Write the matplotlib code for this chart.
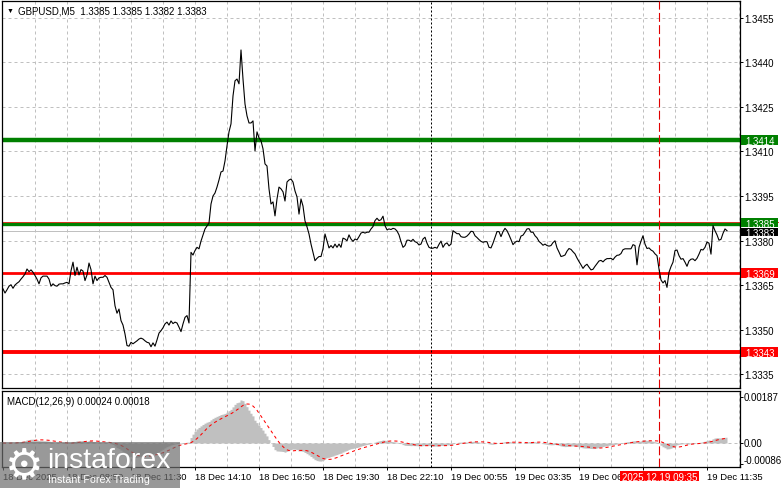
import matplotlib
matplotlib.use("Agg")
import matplotlib.pyplot as plt
import matplotlib.transforms as mtransforms
from matplotlib.patches import Rectangle
import pandas as pd

plt.rcParams['font.family'] = ['Liberation Sans', 'DejaVu Sans']
plt.rcParams['font.size'] = 7

# GBPUSD M5 closes, one per bar, first bar = 18 Dec 06:10
close = [
    1.33637, 1.33623, 1.33634, 1.33646, 1.33651, 1.33639, 1.33650, 1.33656, 1.33661, 1.33670,
    1.33678, 1.33687, 1.33704, 1.33695, 1.33701, 1.33693, 1.33682, 1.33670, 1.33654, 1.33674,
    1.33680, 1.33680, 1.33680, 1.33670, 1.33646, 1.33654, 1.33648, 1.33646, 1.33653, 1.33654,
    1.33654, 1.33657, 1.33659, 1.33654, 1.33698, 1.33727, 1.33682, 1.33710, 1.33684, 1.33702,
    1.33697, 1.33665, 1.33684, 1.33724, 1.33702, 1.33654, 1.33680, 1.33665, 1.33674, 1.33676,
    1.33676, 1.33682, 1.33676, 1.33659, 1.33642, 1.33634, 1.33580, 1.33555, 1.33569, 1.33530,
    1.33515, 1.33485, 1.33446, 1.33444, 1.33457, 1.33452, 1.33457, 1.33462, 1.33468, 1.33471,
    1.33468, 1.33462, 1.33457, 1.33455, 1.33442, 1.33455, 1.33444, 1.33465, 1.33488, 1.33496,
    1.33506, 1.33519, 1.33525, 1.33515, 1.33529, 1.33520, 1.33525, 1.33522, 1.33508, 1.33493,
    1.33519, 1.33541, 1.33547, 1.33522, 1.33760, 1.33751, 1.33766, 1.33777, 1.33772, 1.33798,
    1.33819, 1.33839, 1.33849, 1.33859, 1.33923, 1.33950, 1.33960, 1.33980, 1.34004, 1.34031,
    1.34034, 1.34068, 1.34119, 1.34166, 1.34193, 1.34287, 1.34338, 1.34344, 1.34328, 1.34442,
    1.34344, 1.34260, 1.34220, 1.34196, 1.34196, 1.34203, 1.34102, 1.34166, 1.34146, 1.34136,
    1.34109, 1.34058, 1.34051, 1.33974, 1.33923, 1.33930, 1.33883, 1.33940, 1.33980, 1.33974,
    1.33964, 1.33933, 1.33997, 1.34004, 1.34007, 1.33997, 1.33967, 1.33947, 1.33889, 1.33940,
    1.33916, 1.33866, 1.33846, 1.33822, 1.33788, 1.33760, 1.33732, 1.33740, 1.33746, 1.33746,
    1.33772, 1.33822, 1.33799, 1.33775, 1.33783, 1.33775, 1.33788, 1.33777, 1.33788, 1.33777,
    1.33808, 1.33805, 1.33799, 1.33819, 1.33805, 1.33797, 1.33805, 1.33802, 1.33813, 1.33825,
    1.33828, 1.33825, 1.33828, 1.33828, 1.33839, 1.33847, 1.33867, 1.33875, 1.33867, 1.33870,
    1.33882, 1.33850, 1.33836, 1.33839, 1.33837, 1.33841, 1.33839, 1.33832, 1.33819, 1.33796,
    1.33777, 1.33783, 1.33801, 1.33801, 1.33797, 1.33804, 1.33796, 1.33793, 1.33785, 1.33788,
    1.33805, 1.33811, 1.33791, 1.33777, 1.33774, 1.33774, 1.33777, 1.33774, 1.33787, 1.33798,
    1.33777, 1.33788, 1.33792, 1.33782, 1.33788, 1.33833, 1.33828, 1.33823, 1.33823, 1.33813,
    1.33811, 1.33811, 1.33815, 1.33822, 1.33831, 1.33830, 1.33816, 1.33810, 1.33803, 1.33797,
    1.33794, 1.33796, 1.33796, 1.33777, 1.33775, 1.33791, 1.33811, 1.33830, 1.33830, 1.33813,
    1.33830, 1.33841, 1.33833, 1.33819, 1.33803, 1.33786, 1.33794, 1.33798, 1.33796, 1.33815,
    1.33818, 1.33828, 1.33839, 1.33840, 1.33828, 1.33828, 1.33816, 1.33809, 1.33797, 1.33791,
    1.33784, 1.33788, 1.33783, 1.33781, 1.33783, 1.33793, 1.33799, 1.33775, 1.33761, 1.33746,
    1.33748, 1.33751, 1.33764, 1.33773, 1.33770, 1.33762, 1.33755, 1.33741, 1.33729, 1.33718,
    1.33706, 1.33715, 1.33720, 1.33710, 1.33701, 1.33703, 1.33713, 1.33722, 1.33731, 1.33733,
    1.33728, 1.33735, 1.33739, 1.33739, 1.33740, 1.33735, 1.33744, 1.33750, 1.33751, 1.33756,
    1.33769, 1.33772, 1.33772, 1.33772, 1.33772, 1.33786, 1.33783, 1.33718, 1.33777, 1.33798,
    1.33816, 1.33788, 1.33773, 1.33775, 1.33768, 1.33764, 1.33755, 1.33749, 1.33704, 1.33667,
    1.33657, 1.33665, 1.33642, 1.33693, 1.33712, 1.33727, 1.33766, 1.33768, 1.33749, 1.33737,
    1.33739, 1.33727, 1.33713, 1.33731, 1.33737, 1.33738, 1.33732, 1.33740, 1.33754, 1.33770,
    1.33768, 1.33777, 1.33795, 1.33791, 1.33754, 1.33850, 1.33833, 1.33819, 1.33801, 1.33804,
    1.33824, 1.33839, 1.33833,
]

# time axis labels (19 Dec 08:55 is hidden under the cursor box in the terminal)
time_labels = ['18 Dec 2025', '18 Dec 08:50', '18 Dec 11:30', '18 Dec 14:10',
               '18 Dec 16:50', '18 Dec 19:30', '18 Dec 22:10', '19 Dec 00:55',
               '19 Dec 03:35', '19 Dec 06:15', '', '19 Dec 11:35']
label_bars = [0, 32, 64, 96, 128, 160, 192, 224, 256, 288, 320, 352]

price_ticks = [1.3335, 1.3350, 1.3365, 1.3380, 1.3395, 1.3410, 1.3425, 1.3440, 1.3455]

# support / resistance lines
level_values = [1.3414, 1.33855, 1.3369, 1.33425]
level_labels = ['1.3414', '1.3385', '1.3369', '1.3343']
level_colors = ['#008000', '#008000', '#ff0000', '#ff0000']
level_widths = [3.2, 2.4, 2.0, 2.8]
box_shift = [0, -1.2, 0, 0]     # pixel nudge of the scale labels

bid_price = 1.33832
ask_price = 1.33862
separator_bar = 214   # 19 Dec 00:00
cursor_bar = 328      # 19 Dec 09:35

macd_labels = [0.00187, 0.0, -0.00086]

# MACD(12,26,9) of the closes, signal = SMA 9 like the terminal
s = pd.Series(close)
macd = s.ewm(span=12, adjust=False).mean() - s.ewm(span=26, adjust=False).mean()
signal = macd.rolling(9, min_periods=1).mean()
x = list(range(len(close)))

W, H = 781, 489
fig = plt.figure(figsize=(W / 100, H / 100), dpi=100)
ax1 = fig.add_axes([2 / W, 100 / H, 738 / W, 387 / H])
ax2 = fig.add_axes([2 / W, 21 / H, 738 / W, 76 / H])

grid_kw = dict(color='#c0c0c0', lw=0.72, ls=(0, (3, 3)))

for ax in (ax1, ax2):
    ax.set_xlim(-0.5, 368.5)
    for sp in ax.spines.values():
        sp.set_color('black')
        sp.set_linewidth(0.9)
    for g in range(16, 369, 16):
        ax.axvline(g, zorder=0, **grid_kw)
    ax.axvline(separator_bar, color='black', lw=0.72, ls=(0, (2, 2)), zorder=3)
    ax.axvline(cursor_bar, color='#e00000', lw=0.8, ls=(0, (8, 3)), zorder=3)

# ---- main price panel ----
ax1.set_ylim(1.33303, 1.34607)
ax1.set_yticks(price_ticks)
ax1.set_yticklabels(['%.4f' % p for p in price_ticks])
ax1.yaxis.tick_right()
ax1.tick_params(axis='y', length=2.2, width=0.7, pad=0.8, labelsize=7)
ax1.tick_params(axis='x', bottom=False, labelbottom=False)
for p in price_ticks:
    ax1.axhline(p, zorder=0, **grid_kw)

trans1 = mtransforms.blended_transform_factory(ax1.transAxes, ax1.transData)
ax1.axhline(bid_price, color='#c0c0c0', lw=0.72, zorder=1)
ax1.plot([0, 1.0518], [ask_price, ask_price], color='#ff0000', lw=0.6,
         transform=trans1, clip_on=False, zorder=1.5)
for v, c, w in zip(level_values, level_colors, level_widths):
    ax1.axhline(v, color=c, lw=w, zorder=2)
ax1.plot(x, close, color='black', lw=0.8, zorder=4)

dy = (1.34607 - 1.33303) / 387.0
bx, bw = 1.002, 0.0501


def price_box(value, text, fc, shift=0.0, h=10.0):
    c = value - shift * dy
    ax1.add_patch(Rectangle((bx, c - h / 2 * dy), bw, h * dy, transform=trans1,
                            facecolor=fc, edgecolor='none', clip_on=False, zorder=6))
    ax1.text(bx + bw / 2, c, text, transform=trans1, color='white', ha='center',
             va='center_baseline', fontsize=7, clip_on=False, zorder=7)


for v, lab, c, sh in zip(level_values, level_labels, level_colors, box_shift):
    price_box(v, lab, c, sh, 9.0 if sh else 10.0)
price_box(bid_price, '1.3383', 'black', 1.0, 8.5)

# ---- MACD panel ----
ax2.set_ylim(-0.000984, 0.002131)
ax2.axhline(0, zorder=0, **grid_kw)
ax2.fill_between(x, 0, macd, step='mid', color='#c0c0c0', lw=0, zorder=1)
ax2.plot(x, signal, color='#ff0000', lw=0.75, ls=(0, (3, 3)), zorder=2)

ax2.yaxis.tick_right()
ax2.set_yticks(macd_labels)
ax2.set_yticklabels([])
ax2.tick_params(axis='y', length=2.2, width=0.7)
trans2 = mtransforms.blended_transform_factory(ax2.transAxes, ax2.transData)
for v in macd_labels:
    txt = '%.5f' % v if v != 0 else '0.00'
    off = 3.2 if v < 0 else 0
    ax2.annotate(txt, xy=(1.0054, v), xycoords=trans2, xytext=(0, off),
                 textcoords='offset points', va='center', ha='left',
                 fontsize=7, annotation_clip=False)

ax2.set_xticks(label_bars)
ax2.set_xticklabels(time_labels)
ax2.tick_params(axis='x', length=2.2, width=0.7, pad=1.5, labelsize=6.8)
for lab in ax2.get_xticklabels():
    lab.set_horizontalalignment('left')

# cursor time box
trans2x = mtransforms.blended_transform_factory(ax2.transData, ax2.transAxes)
ax2.add_patch(Rectangle((cursor_bar + 0.25 - 19.75, -0.184), 39.5, 0.1316, transform=trans2x,
                        facecolor='#ff0000', edgecolor='none', clip_on=False, zorder=10))
ax2.text(cursor_bar + 0.25, -0.118, '2025.12.19 09:35', transform=trans2x, color='white',
         ha='center', va='center_baseline', fontsize=7, clip_on=False, zorder=11)

# header texts
fig.text(7 / W, 1 - 11 / H, '\u25bc', fontsize=5, va='center', ha='left')
fig.text(18 / W, 1 - 11 / H, 'GBPUSD,M5  1.3385 1.3385 1.3382 1.3383', fontsize=7,
         va='center', ha='left')
fig.text(7 / W, 1 - 402 / H, 'MACD(12,26,9) 0.00024 0.00018', fontsize=7,
         va='center', ha='left')

# watermark
fig.add_artist(Rectangle((0, 0), 180 / W, 46 / H, transform=fig.transFigure,
                         facecolor='#6e6e6e', alpha=0.7, edgecolor='none', zorder=20))
fig.text(5 / W, 1 - 466 / H, '\u2699', fontsize=31, color='white', va='center',
         ha='left', family='DejaVu Sans', zorder=21)
fig.text(47 / W, 1 - 461 / H, 'instaforex', fontsize=20.5, color='white', va='center',
         ha='left', zorder=21)
fig.text(48 / W, 1 - 480 / H, 'Instant Forex Trading', fontsize=7.7, color='white',
         va='center', ha='left', zorder=21)

fig.savefig('out.png', dpi=100)
